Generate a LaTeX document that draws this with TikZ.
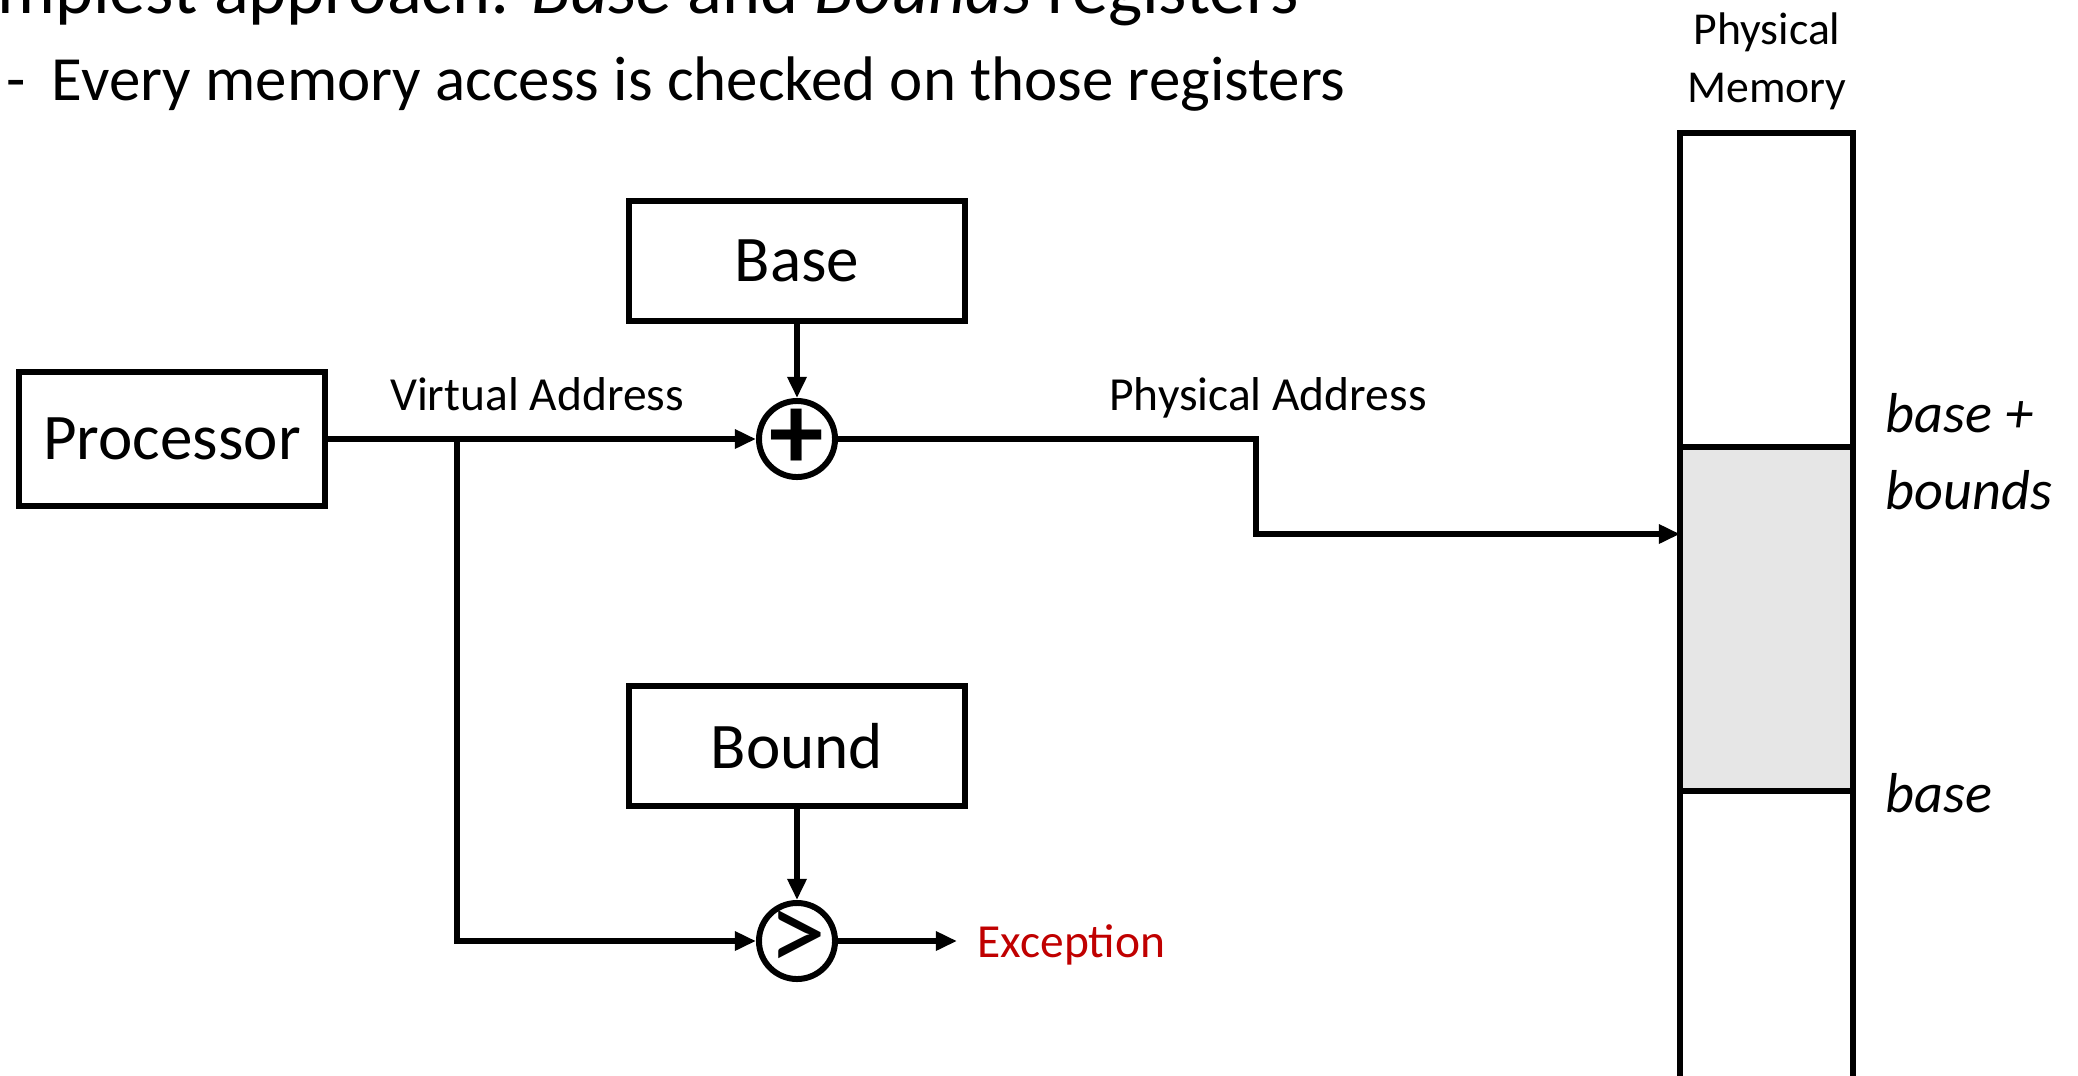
\documentclass[tikz,border=0pt]{standalone}
\usepackage{fontspec}
\setmainfont{Carlito}
\usepackage{tikz}
\usetikzlibrary{arrows.meta, calc, positioning, shapes}
\definecolor{excred}{HTML}{C00000}
\definecolor{regiongray}{HTML}{E6E6E6}
\tikzstyle{unit}		=[rectangle, draw=black, line width=1.7pt, fill=white, text centered, font=\fontsize{18.5pt}{21pt}\selectfont]
\tikzstyle{op}			=[circle, draw=black, line width=1.7pt, fill=white, minimum size=0.76cm, inner sep=-10pt]
\tikzstyle{mem}			=[rectangle, draw=black, line width=1.7pt, minimum width=1.72cm, inner sep=0pt]
\tikzstyle{flow}		=[->, >={Triangle[length=6pt, width=5.2pt]}, line width=1.5pt]
\tikzstyle{tag}			=[inner sep=0pt, font=\fontsize{13.5pt}{16pt}\selectfont]
\tikzstyle{addr}		=[inner sep=0pt, font=\fontsize{16pt}{22pt}\selectfont\itshape]

\begin{document}
\begin{tikzpicture}[x=0.01cm, y=-0.01cm]

	\useasboundingbox (0,0) rectangle (2078,1075);
	\clip (0,0) rectangle (2078,1075);

	\node (Title)			[anchor=base east, inner sep=0pt, font=\fontsize{20.6pt}{24pt}\selectfont]		at (1299,13)		{Simplest approach: \textit{Base} and \textit{Bounds} registers};
	\node (Bullet)		[anchor=base west, inner sep=0pt, font=\fontsize{17.9pt}{21pt}\selectfont]	at (6,100)			{-\hspace{0.26cm}Every memory access is checked on those registers};

	\node (Processor)	[unit, minimum width=3.05cm, minimum height=1.33cm]		at (172,439)		{Processor};
	\node (Base)			[unit, minimum width=3.35cm, minimum height=1.19cm]		at (797,261)		{Base};
	\node (Bound)			[unit, minimum width=3.35cm, minimum height=1.19cm]		at (797,746)		{Bound};
	\node (Plus)			[op, font=\fontsize{31pt}{31pt}\selectfont\bfseries]		at (797,439)		{+};
	\node (Greater)		[op, font=\fontsize{33pt}{33pt}\selectfont]						at (797,941)		{>};

	\node (Memory)		[mem, fill=white, minimum height=9.87cm]							at (1766.5,626.5)	{};
	\node (Region)		[mem, fill=regiongray, minimum height=3.44cm]				at (1766.5,619)		{};
	\node (MemTitle)	[anchor=north, align=center, inner sep=0pt, font=\fontsize{13pt}{16.4pt}\selectfont]	at (1767,12)	{Physical\\Memory};
	\node (TopTag)		[addr, anchor=base west]		at (1885,432)		{base +};
	\node (TopTagB)		[addr, anchor=base west]		at (1885,509)		{bounds};
	\node (LowTag)		[addr, anchor=base west]		at (1885,812)		{base};

	\coordinate (Branch)	at (457,439);
	\coordinate (Bend)		at (1256,439);
	\coordinate (MemIn)		at (1680,534);

	\node (VirtLabel)	[tag, anchor=base]												at (537,410)		{Virtual Address};
	\node (PhysLabel)	[tag, anchor=base]												at (1268,410)		{Physical Address};
	\node (Exception)	[tag, anchor=west, inner xsep=0.2cm, text depth=0pt, text=excred]	at (957,941)	{Exception};

	\draw[flow] (Processor) -- (Plus);
	\draw[flow] (Base) -- (Plus);
	\draw[flow] (Bound) -- (Greater);
	\draw[flow] (Branch) |- (Greater);
	\draw[flow] (Plus) -- (Bend) |- (MemIn);
	\draw[flow] (Greater) -- (Exception);

\end{tikzpicture}
\end{document}
